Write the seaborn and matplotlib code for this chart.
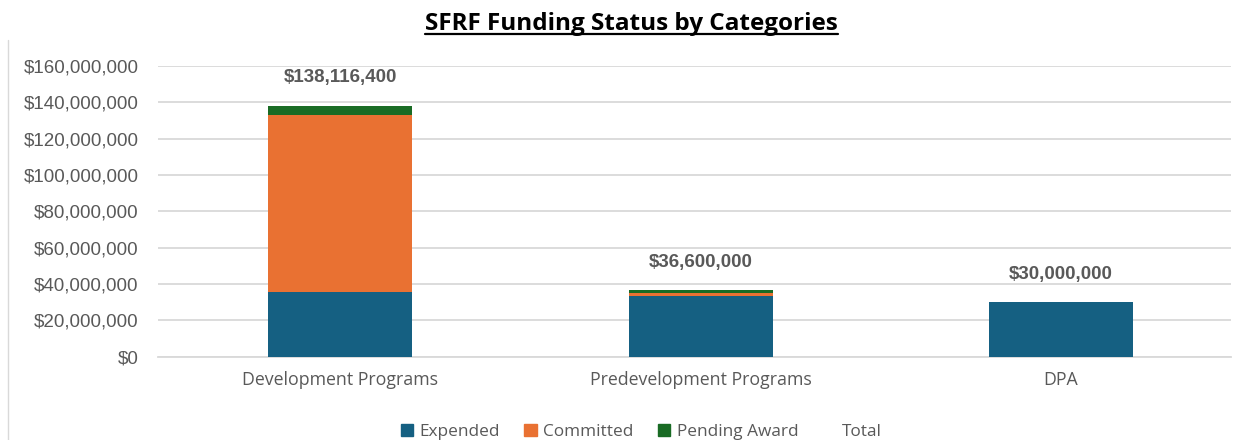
import matplotlib.pyplot as plt
import matplotlib.patches as mpatches
import matplotlib.ticker as mticker
import numpy as np
import pandas as pd
import seaborn as sns

categories = ['Development Programs', 'Predevelopment Programs', 'DPA']
expended = [35_500_000, 33_700_000, 30_000_000]
committed = [97_500_000, 1_600_000, 0]
pending_award = [5_116_400, 1_300_000, 0]
totals = [138_116_400, 36_600_000, 30_000_000]

colors = {'Expended': '#156082', 'Committed': '#E97132', 'Pending Award': '#196B24'}
text_gray = '#595959'

sns.set_theme(style='white')
plt.rcParams['font.family'] = ['Liberation Sans', 'DejaVu Sans']

df = pd.DataFrame({'Category': categories,
                   'Expended': expended,
                   'Committed': committed,
                   'Pending Award': pending_award})
# cumulative tops so each layer can be overdrawn from biggest to smallest
df['top_pending'] = df['Expended'] + df['Committed'] + df['Pending Award']
df['top_committed'] = df['Expended'] + df['Committed']
df['top_expended'] = df['Expended']

fig = plt.figure(figsize=(12.33, 4.4), dpi=100)
ax = fig.add_axes([0.128, 0.189, 0.87, 0.661])

for col, name in [('top_pending', 'Pending Award'),
                  ('top_committed', 'Committed'),
                  ('top_expended', 'Expended')]:
    sns.barplot(data=df, x='Category', y=col, color=colors[name],
                width=0.4, saturation=1, linewidth=0, ax=ax, zorder=3)

ax.set_ylim(0, 160_000_000)
ax.set_xlim(-0.506, 2.47)
ax.yaxis.set_major_locator(mticker.MultipleLocator(20_000_000))
ax.yaxis.set_major_formatter(mticker.FuncFormatter(lambda v, p: f'${v:,.0f}'))
ax.grid(axis='y', color='#d9d9d9', linewidth=1.3, zorder=0)
ax.set_axisbelow(True)
for s in ['top', 'right', 'left']:
    ax.spines[s].set_visible(False)
ax.spines['bottom'].set_color('#d9d9d9')
ax.spines['bottom'].set_linewidth(1.3)
ax.tick_params(axis='both', length=0)
ax.tick_params(axis='y', labelsize=13.5, labelcolor=text_gray, pad=14)
ax.tick_params(axis='x', labelsize=12.8, labelcolor=text_gray, pad=10)
for lbl in ax.get_xticklabels():
    lbl.set_fontfamily('Open Sans')
ax.set_xlabel('')
ax.set_ylabel('')

for i, t in enumerate(totals):
    ax.annotate(f'${t:,.0f}', xy=(i, t), xytext=(0, 14), textcoords='offset points',
                ha='center', va='bottom', fontsize=13.5, fontweight='bold',
                color=text_gray)

handles = [mpatches.Patch(color=colors['Expended'], label='Expended'),
           mpatches.Patch(color=colors['Committed'], label='Committed'),
           mpatches.Patch(color=colors['Pending Award'], label='Pending Award'),
           mpatches.Patch(color='none', label='Total')]
leg = fig.legend(handles=handles, loc='center', bbox_to_anchor=(0.52, 0.018), ncol=4,
                 frameon=False, handlelength=0.7, handleheight=0.7, handletextpad=0.4,
                 columnspacing=1.4, prop={'family': 'Open Sans', 'size': 12.4})
for txt in leg.get_texts():
    txt.set_color(text_gray)

title = fig.text(0.512, 0.945, 'SFRF Funding Status by Categories', ha='center',
                 va='center', fontsize=17.5, fontweight='bold', color='black',
                 family='Open Sans')
fig.canvas.draw()
bb = title.get_window_extent().transformed(fig.transFigure.inverted())
fig.add_artist(plt.Line2D([bb.x0, bb.x1], [bb.y0 + 0.004, bb.y0 + 0.004],
                          color='black', linewidth=1.6, transform=fig.transFigure))

# chart area left border
fig.add_artist(plt.Line2D([0.0065, 0.0065], [0.0, 0.91], color='#d9d9d9',
                          linewidth=1, transform=fig.transFigure))

fig.savefig('out.png', dpi=100)
